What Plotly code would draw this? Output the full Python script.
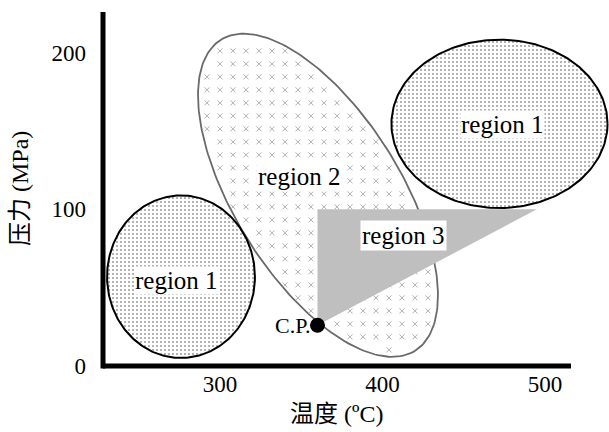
import numpy as np
import plotly.graph_objects as go

# Axis extents and ticks
X_RANGE = [228, 539.4]
Y_RANGE = [0, 226]
X_AXIS_END = 516
X_TICKS = [300, 400, 500]
Y_TICKS = [0, 100, 200]

# Region 1: two separate elliptic zones (center x, center y, radius x, radius y)
REGION1_CX = [276, 472]
REGION1_CY = [57, 154.6]
REGION1_RX = [45.5, 66.5]
REGION1_RY = [50, 51.8]
REGION1_LABEL_X = [273.5, 474]
REGION1_LABEL_Y = [54.5, 154]

# Region 2: tilted ellipse (center, semi-axes in temperature units, tilt in degrees)
REGION2_CENTER = [360.3, 109]
REGION2_AXES = [112.8, 51.1]
REGION2_TILT = -58
REGION2_LABEL = [349, 121]

# Region 3: triangle anchored at the critical point
REGION3_T = [360, 360, 495]
REGION3_P = [26, 100, 100]
REGION3_LABEL = [413, 83]

# Critical point
CP_T = [360]
CP_P = [26]

# y-units per x-unit on screen, so tilted shapes keep their proportions
ASPECT = 1.566 / 1.625
# spacing of the cross texture inside region 2 (temperature / pressure units)
HATCH_DT = 8.0
HATCH_DP = 8.3

SERIF = "Liberation Serif, Times New Roman, Noto Sans CJK SC, serif"


def ellipse(cx, cy, a, b, tilt_deg=0.0, n=240):
    t = np.linspace(0, 2 * np.pi, n)
    th = np.deg2rad(tilt_deg)
    u = a * np.cos(t) * np.cos(th) - b * np.sin(t) * np.sin(th)
    v = a * np.cos(t) * np.sin(th) + b * np.sin(t) * np.cos(th)
    return cx + u, cy + v / ASPECT


def inside_ellipse(x, y, cx, cy, a, b, tilt_deg, margin=0.93):
    th = np.deg2rad(tilt_deg)
    dx = x - cx
    dy = (y - cy) * ASPECT
    u = dx * np.cos(th) + dy * np.sin(th)
    v = -dx * np.sin(th) + dy * np.cos(th)
    return (u / a) ** 2 + (v / b) ** 2 <= margin


fig = go.Figure()

# Region 2 outline and white fill
ex, ey = ellipse(REGION2_CENTER[0], REGION2_CENTER[1],
                 REGION2_AXES[0], REGION2_AXES[1], REGION2_TILT)
fig.add_trace(go.Scatter(
    x=ex, y=ey, mode="lines", fill="toself", fillcolor="white",
    line=dict(color="#6a6a6a", width=1.8),
    hoverinfo="skip", showlegend=False))

# Region 2 texture: small light crosses on a regular lattice
gx, gy = np.meshgrid(np.arange(X_RANGE[0], X_RANGE[1], HATCH_DT),
                     np.arange(Y_RANGE[0] + 2, Y_RANGE[1], HATCH_DP))
gx, gy = gx.ravel(), gy.ravel()
keep = inside_ellipse(gx, gy, REGION2_CENTER[0], REGION2_CENTER[1],
                      REGION2_AXES[0], REGION2_AXES[1], REGION2_TILT)
fig.add_trace(go.Scatter(
    x=gx[keep], y=gy[keep], mode="markers",
    marker=dict(symbol="x-thin-open", size=5, color="#b0b0b0",
                line=dict(color="#b0b0b0", width=1)),
    hoverinfo="skip", showlegend=False))

# Region 1 (dotted)
for cx, cy, rx, ry in zip(REGION1_CX, REGION1_CY, REGION1_RX, REGION1_RY):
    ex, ey = ellipse(cx, cy, rx, ry)
    fig.add_trace(go.Scatter(
        x=ex, y=ey, mode="lines", fill="toself",
        fillcolor="white",
        fillpattern=dict(shape=".", size=4, solidity=0.2,
                         fgcolor="#333333", bgcolor="white", fillmode="overlay"),
        line=dict(color="black", width=2),
        hoverinfo="skip", showlegend=False))

# Region 3 (grey triangle)
fig.add_trace(go.Scatter(
    x=REGION3_T + REGION3_T[:1], y=REGION3_P + REGION3_P[:1],
    mode="lines", fill="toself", fillcolor="#bfbfbf",
    line=dict(width=0), hoverinfo="skip", showlegend=False))

# Critical point
fig.add_trace(go.Scatter(
    x=CP_T, y=CP_P, mode="markers",
    marker=dict(size=15, color="black"),
    hoverinfo="skip", showlegend=False))

label_font = dict(family=SERIF, size=25, color="black")
annotations = []
for lx, ly in zip(REGION1_LABEL_X, REGION1_LABEL_Y):
    annotations.append(dict(x=lx, y=ly, text="region 1", showarrow=False,
                            font=label_font, bgcolor="white", borderpad=0))
annotations.append(dict(x=REGION2_LABEL[0], y=REGION2_LABEL[1], text="region 2",
                        showarrow=False, font=label_font, bgcolor="white", borderpad=1))
annotations.append(dict(x=REGION3_LABEL[0], y=REGION3_LABEL[1], text="region 3",
                        showarrow=False, font=label_font, bgcolor="white", borderpad=1))
annotations.append(dict(x=CP_T[0], y=CP_P[0], text="C.P.", showarrow=False,
                        xanchor="right", xshift=-5,
                        font=dict(family=SERIF, size=22, color="black")))

# Axis titles
annotations.append(dict(x=(X_RANGE[0] + X_AXIS_END) / 2, y=0, xref="x", yref="paper",
                        yshift=-48, yanchor="middle", text="温度 (ºC)", showarrow=False,
                        font=dict(family=SERIF, size=24, color="black")))
annotations.append(dict(x=0, y=0.5, xref="paper", yref="paper", xshift=-83,
                        xanchor="center", text="压力 (MPa)", textangle=-90,
                        showarrow=False,
                        font=dict(family=SERIF, size=24, color="black")))

# Heavy axis lines
shapes = [
    dict(type="line", xref="paper", yref="paper", x0=0, x1=0, y0=-0.007, y1=1,
         line=dict(color="black", width=5)),
    dict(type="line", xref="x", yref="paper", x0=X_RANGE[0] - 1.5, x1=X_AXIS_END,
         y0=0, y1=0, line=dict(color="black", width=5)),
]

fig.update_layout(
    width=609, height=432,
    margin=dict(l=103, r=0, t=12, b=66),
    paper_bgcolor="white", plot_bgcolor="white",
    annotations=annotations, shapes=shapes,
    xaxis=dict(range=X_RANGE, tickvals=X_TICKS, ticks="", showgrid=False,
               zeroline=False, showline=False, ticklabelstandoff=2,
               tickfont=dict(family=SERIF, size=23, color="black")),
    yaxis=dict(range=Y_RANGE, tickvals=Y_TICKS, ticks="", showgrid=False,
               zeroline=False, showline=False, ticklabelstandoff=16,
               tickfont=dict(family=SERIF, size=23, color="black")),
)

fig.write_html("out.html")
